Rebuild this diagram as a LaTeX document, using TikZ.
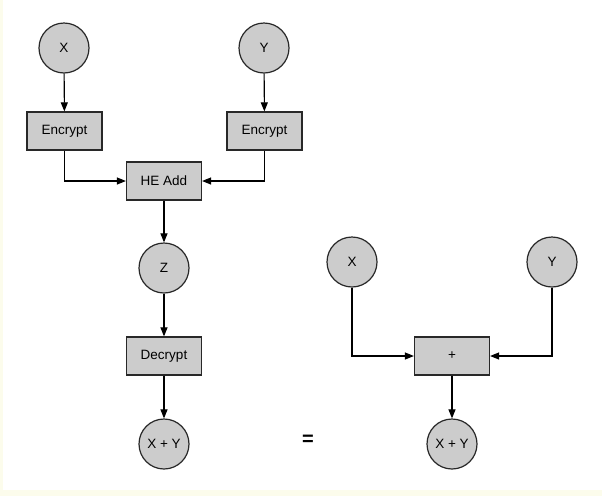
\documentclass[tikz,border=0pt]{standalone}
\usepackage{fontspec}
\setmainfont{Liberation Sans}
\usetikzlibrary{arrows.meta}
\definecolor{bgyellow}{RGB}{252,252,236}
\definecolor{nodefill}{RGB}{204,204,204}
\definecolor{edge}{RGB}{40,40,40}
\tikzset{
  circ/.style={circle, draw=edge, fill=nodefill, line width=1.2pt, minimum size=50pt, inner sep=0pt, font=\fontsize{13.5}{15}\selectfont},
  boxn/.style={rectangle, draw=edge, fill=nodefill, line width=1.2pt, minimum width=75pt, minimum height=38pt, inner sep=0pt, font=\fontsize{13.5}{15}\selectfont},
  conn/.style={draw=black, line width=1.1pt, -{Triangle[length=9pt,width=7pt]}}
}
\begin{document}
\begin{tikzpicture}[x=1pt,y=-1pt]
\fill[bgyellow] (0,0) rectangle (602,496);
\fill[white] (3,0) rectangle (602,490);
\useasboundingbox (0,0) rectangle (602,496);
\node[circ] (x1) at (64,48) {X};
\node[circ] (y1) at (264,48) {Y};
\node[boxn] (e1) at (64.5,131) {Encrypt};
\node[boxn] (e2) at (264.5,131) {Encrypt};
\node[boxn] (he) at (164,181) {HE Add};
\node[circ] (z) at (164,268) {Z};
\node[boxn] (de) at (164,356) {Decrypt};
\node[circ] (r1) at (164,444) {X + Y};
\node[circ] (x2) at (352,262) {X};
\node[circ] (y2) at (552,262) {Y};
\node[boxn] (pl) at (452,356) {+};
\node[circ] (r2) at (452,444) {X + Y};
\node[font=\fontsize{20}{20}\selectfont\bfseries] (eq) at (308,440) {=};
\draw[conn] (x1) -- (e1);
\draw[conn] (y1) -- (e2);
\draw[conn] (e1.south) |- (he.west);
\draw[conn] (e2.south) |- (he.east);
\draw[conn] (he) -- (z);
\draw[conn] (z) -- (de);
\draw[conn] (de) -- (r1);
\draw[conn] (x2.south) |- (pl.west);
\draw[conn] (y2.south) |- (pl.east);
\draw[conn] (pl) -- (r2);
\end{tikzpicture}
\end{document}
